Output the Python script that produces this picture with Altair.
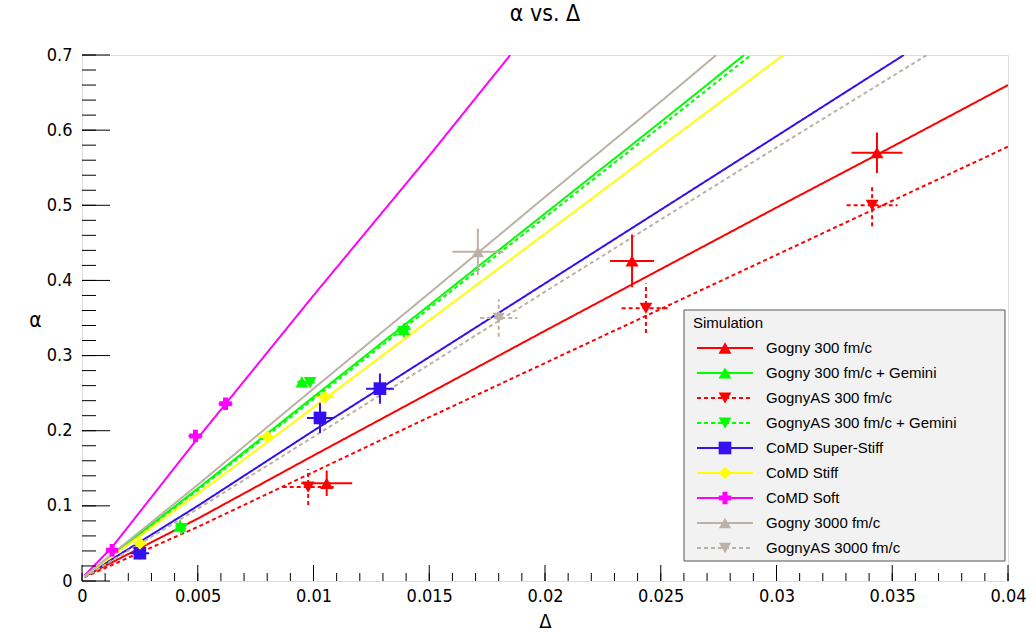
import altair as alt
import pandas as pd

# ---------------- series definitions ----------------
series = ["Gogny 300 fm/c", "Gogny 300 fm/c + Gemini", "GognyAS 300 fm/c",
          "GognyAS 300 fm/c + Gemini", "CoMD Super-Stiff", "CoMD Stiff",
          "CoMD Soft", "Gogny 3000 fm/c", "GognyAS 3000 fm/c"]
colors = ["#ff0000", "#00ff00", "#ff0000", "#00ff00", "#3311ee",
          "#ffff00", "#ff00ff", "#bcb1a6", "#bcb1a6"]
dashes = [[1, 0], [1, 0], [4, 3], [4, 3], [1, 0], [1, 0], [1, 0], [1, 0], [4, 3]]
shapes = ["triangle-up", "triangle-up", "triangle-down", "triangle-down",
          "square", "diamond", "cross", "triangle-up", "triangle-down"]
msizes = [170, 150, 170, 150, 150, 70, 110, 170, 170]

# ---------------- curves (Δ, α) ----------------
gogny300_d = [0.0001, 0.005, 0.010, 0.015, 0.020, 0.025, 0.030, 0.035, 0.040]
gogny300_a = [0.006, 0.083, 0.167, 0.250, 0.333, 0.415, 0.497, 0.578, 0.660]
gognyGem_d = [0.0001, 0.005, 0.010, 0.015, 0.020, 0.025, 0.0286]
gognyGem_a = [0.006, 0.123, 0.245, 0.367, 0.489, 0.611, 0.700]
gognyAS300_d = [0.0001, 0.005, 0.010, 0.015, 0.020, 0.025, 0.030, 0.035, 0.040]
gognyAS300_a = [0.005, 0.072, 0.145, 0.218, 0.290, 0.362, 0.434, 0.506, 0.578]
gognyASGem_d = [0.0001, 0.005, 0.010, 0.015, 0.020, 0.025, 0.0289]
gognyASGem_a = [0.006, 0.121, 0.242, 0.363, 0.484, 0.605, 0.700]
superstiff_d = [0.0001, 0.005, 0.010, 0.015, 0.020, 0.025, 0.030, 0.0355]
superstiff_a = [0.006, 0.100, 0.200, 0.298, 0.396, 0.494, 0.592, 0.700]
stiff_d = [0.0001, 0.005, 0.010, 0.015, 0.020, 0.025, 0.0303]
stiff_a = [0.006, 0.116, 0.231, 0.347, 0.462, 0.578, 0.700]
soft_d = [0.0001, 0.0013, 0.005, 0.010, 0.015, 0.0185]
soft_a = [0.007, 0.045, 0.190, 0.380, 0.566, 0.700]
gogny3000_d = [0.0001, 0.005, 0.010, 0.015, 0.020, 0.025, 0.0274]
gogny3000_a = [0.006, 0.128, 0.256, 0.383, 0.511, 0.638, 0.700]
gognyAS3000_d = [0.0001, 0.005, 0.010, 0.015, 0.020, 0.025, 0.030, 0.0365]
gognyAS3000_a = [0.005, 0.096, 0.192, 0.288, 0.385, 0.481, 0.577, 0.700]

curve_d = [gogny300_d, gognyGem_d, gognyAS300_d, gognyASGem_d, superstiff_d,
           stiff_d, soft_d, gogny3000_d, gognyAS3000_d]
curve_a = [gogny300_a, gognyGem_a, gognyAS300_a, gognyASGem_a, superstiff_a,
           stiff_a, soft_a, gogny3000_a, gognyAS3000_a]

# ---------------- markers with errors (Δ, α, σΔ, σα) ----------------
pts_d = [[0.01057, 0.02376, 0.03434],
         [0.00423, 0.0095, 0.0139],
         [0.00977, 0.02436, 0.03413],
         [0.0043, 0.00985, 0.0139],
         [0.0025, 0.01028, 0.01287],
         [0.0025, 0.0080, 0.0105],
         [0.0013, 0.0049, 0.0062],
         [0.0171],
         [0.0180]]
pts_a = [[0.130, 0.426, 0.570],
         [0.073, 0.265, 0.335],
         [0.125, 0.363, 0.500],
         [0.070, 0.264, 0.332],
         [0.037, 0.217, 0.256],
         [0.050, 0.192, 0.245],
         [0.041, 0.193, 0.236],
         [0.438],
         [0.350]]
pts_ed = [[0.0011, 0.00095, 0.0011],
          [0.0002, 0.0002, 0.0003],
          [0.0011, 0.00105, 0.0011],
          [0.0002, 0.0002, 0.0003],
          [0.0004, 0.00056, 0.0006],
          [0.0003, 0.0004, 0.0004],
          [0.0002, 0.0003, 0.0003],
          [0.0011],
          [0.0008]]
pts_ea = [[0.017, 0.035, 0.027],
          [0.008, 0.006, 0.008],
          [0.024, 0.033, 0.028],
          [0.008, 0.006, 0.008],
          [0.008, 0.020, 0.020],
          [0.006, 0.008, 0.008],
          [0.005, 0.006, 0.006],
          [0.031],
          [0.025]]

x_major = [0, 0.005, 0.01, 0.015, 0.02, 0.025, 0.03, 0.035, 0.04]
y_major = [0, 0.1, 0.2, 0.3, 0.4, 0.5, 0.6, 0.7]
x_minor = [i / 1000 for i in range(41)]
y_minor = [i / 50 for i in range(36)]

# ---------------- tables ----------------
rows = []
for s, ds, als in zip(series, curve_d, curve_a):
    for d, a in zip(ds, als):
        rows.append({"series": s, "delta": d, "alpha": a})
lines_df = pd.DataFrame(rows)

prow = []
for s, ds, als, eds, eas in zip(series, pts_d, pts_a, pts_ed, pts_ea):
    for d, a, ed, ea in zip(ds, als, eds, eas):
        prow.append({"series": s, "delta": d, "alpha": a,
                     "dlo": d - ed, "dhi": d + ed, "alo": a - ea, "ahi": a + ea})
pts_df = pd.DataFrame(prow)

leg_df = pd.DataFrame({"series": series, "idx": list(range(len(series)))})

W, H = 926, 526
FONT_AX = "Liberation Sans Narrow, DejaVu Sans Condensed, Liberation Sans"
FONT_LEG = "Liberation Sans, Arial, Helvetica"

xs = alt.Scale(domain=[0, 0.04], nice=False, zero=False)
ys = alt.Scale(domain=[0, 0.7], nice=False, zero=False)
col = alt.Color("series:N", scale=alt.Scale(domain=series, range=colors), legend=None)
dash = alt.StrokeDash("series:N", scale=alt.Scale(domain=series, range=dashes), legend=None)
shp = alt.Shape("series:N", scale=alt.Scale(domain=series, range=shapes), legend=None)
siz = alt.Size("series:N", scale=alt.Scale(domain=series, range=msizes), legend=None)

x_axis = alt.Axis(values=x_major, format="~g", labelFont=FONT_AX, labelFontSize=18,
                  labelColor="#000", ticks=False, tickSize=0, domain=False, grid=False,
                  labelPadding=6, title="Δ", titleFont=FONT_AX, titleFontSize=20,
                  titleFontWeight="normal", titleColor="#000", titleY=40,
                  titleBaseline="middle", labelFlush=False)
y_axis = alt.Axis(values=y_major, format="~g", labelFont=FONT_AX, labelFontSize=18,
                  labelColor="#000", ticks=False, tickSize=0, domain=False, grid=False,
                  labelPadding=10, title="α", titleFont=FONT_AX, titleFontSize=21,
                  titleFontWeight="normal", titleColor="#000", titleAngle=0,
                  titleX=-47, titleY=265, titleAlign="center", titleBaseline="middle",
                  labelFlush=False)

lines = alt.Chart(lines_df).mark_line(clip=True, strokeWidth=2).encode(
    x=alt.X("delta:Q", scale=xs, axis=x_axis),
    y=alt.Y("alpha:Q", scale=ys, axis=y_axis),
    color=col, strokeDash=dash, detail="series:N",
)

ebx = alt.Chart(pts_df).mark_rule(strokeWidth=2, clip=True).encode(
    x=alt.X("dlo:Q", scale=xs, axis=x_axis), x2="dhi:Q",
    y=alt.Y("alpha:Q", scale=ys, axis=y_axis), color=col, strokeDash=dash,
)
eby = alt.Chart(pts_df).mark_rule(strokeWidth=2, clip=True).encode(
    x=alt.X("delta:Q", scale=xs, axis=x_axis),
    y=alt.Y("alo:Q", scale=ys, axis=y_axis), y2="ahi:Q", color=col, strokeDash=dash,
)
marks = alt.Chart(pts_df).mark_point(filled=True, opacity=1, strokeWidth=0).encode(
    x=alt.X("delta:Q", scale=xs, axis=x_axis),
    y=alt.Y("alpha:Q", scale=ys, axis=y_axis), color=col, shape=shp, size=siz,
)

# inner ticks (ROOT style)
xt_major = alt.Chart(pd.DataFrame({"v": x_major})).mark_rule(color="#000", strokeWidth=1).encode(
    x=alt.X("v:Q", scale=xs, axis=x_axis), y=alt.value(H), y2=alt.value(H - 16))
xt_minor = alt.Chart(pd.DataFrame({"v": x_minor})).mark_rule(color="#000", strokeWidth=1).encode(
    x=alt.X("v:Q", scale=xs, axis=x_axis), y=alt.value(H), y2=alt.value(H - 8))
yt_major = alt.Chart(pd.DataFrame({"v": y_major})).mark_rule(color="#000", strokeWidth=1).encode(
    y=alt.Y("v:Q", scale=ys, axis=y_axis), x=alt.value(0), x2=alt.value(28))
yt_minor = alt.Chart(pd.DataFrame({"v": y_minor})).mark_rule(color="#000", strokeWidth=1).encode(
    y=alt.Y("v:Q", scale=ys, axis=y_axis), x=alt.value(0), x2=alt.value(14))

data_layer = alt.layer(lines, ebx, eby, marks, xt_major, xt_minor, yt_major, yt_minor)

# ---------------- legend ----------------
ly = alt.Y("idx:Q", scale=alt.Scale(domain=[0, 8], range=[293, 493]), axis=None)
one = pd.DataFrame({"t": ["Simulation"]})
leg_bg = alt.Chart(one).mark_rect(fill="#f2f2f2", stroke="#555", strokeWidth=1).encode(
    x=alt.value(602), x2=alt.value(923), y=alt.value(255), y2=alt.value(506))
leg_title = alt.Chart(one).mark_text(align="left", baseline="middle", font=FONT_LEG,
                                     fontSize=15, color="#000").encode(
    x=alt.value(611), y=alt.value(268), text="t:N")
leg_lines = alt.Chart(leg_df).mark_rule(strokeWidth=2).encode(
    x=alt.value(615), x2=alt.value(671), y=ly, color=col, strokeDash=dash)
leg_pts = alt.Chart(leg_df).mark_point(filled=True, opacity=1, strokeWidth=0).encode(
    x=alt.value(643), y=ly, color=col, shape=shp, size=siz)
leg_txt = alt.Chart(leg_df).mark_text(align="left", baseline="middle", font=FONT_LEG,
                                      fontSize=15, color="#000").encode(
    x=alt.value(684), y=ly, text="series:N")
legend_layer = alt.layer(leg_bg, leg_title, leg_lines, leg_pts, leg_txt)

chart = alt.layer(data_layer, legend_layer).resolve_scale(y="independent").properties(
    width=W, height=H,
    autosize=alt.AutoSizeParams(type="none"),
    padding={"left": 82, "top": 55, "right": 28, "bottom": 51},
    title=alt.TitleParams("α vs. Δ", font=FONT_AX, fontSize=23, fontWeight="normal",
                          color="#000", anchor="middle", offset=20),
).configure_view(stroke="#333", strokeWidth=1).configure(background="white")

chart.save("out.html", embed_options={"renderer": "svg", "actions": False})
